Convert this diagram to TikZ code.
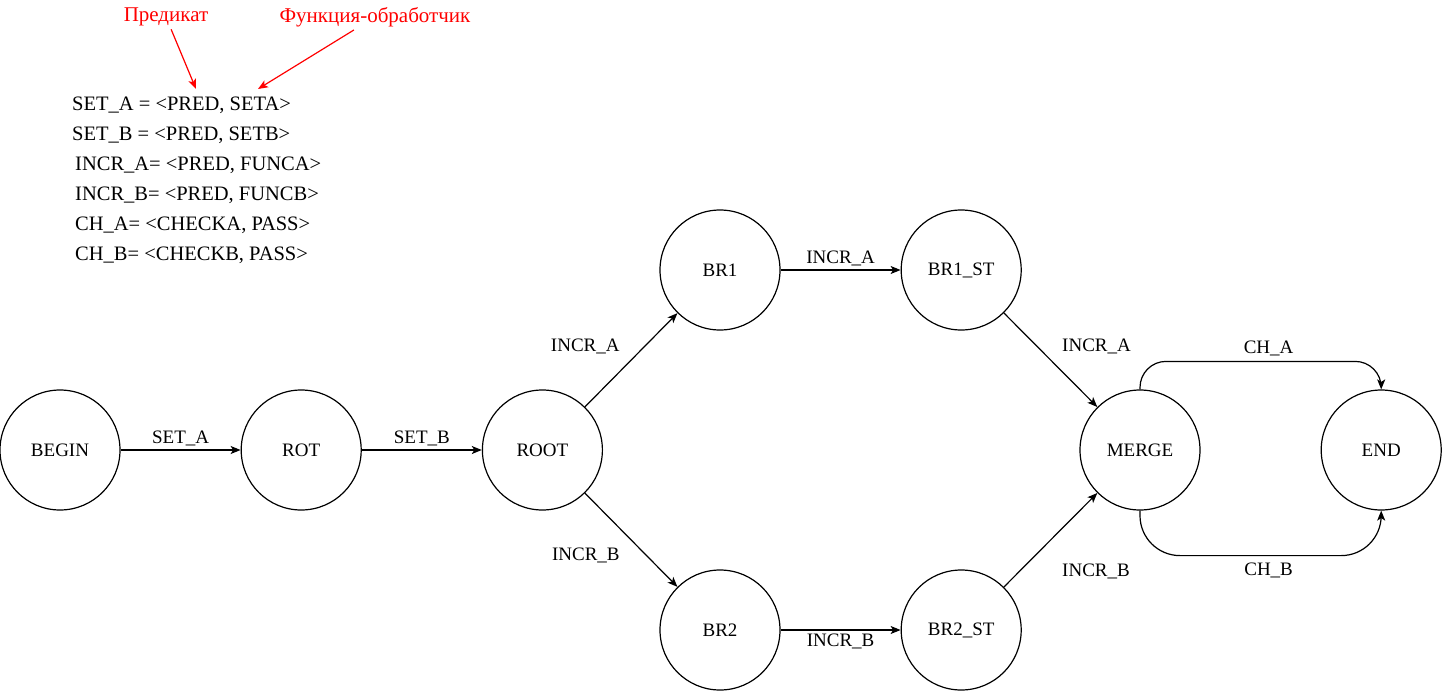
\documentclass[tikz,border=0pt]{standalone}
\usepackage{fontspec}
\setmainfont{Liberation Serif}
\usetikzlibrary{arrows.meta, positioning}

\begin{document}
\begin{tikzpicture}[
      x = 1pt, y = -1pt,
      font = \fontsize{19}{23}\selectfont,
      state/.style={
        circle,
        draw,
        line width = 1.2pt,
        minimum size = 120pt,
        inner sep = 0pt,
      },
      edge/.style={
        -{Stealth[length=10pt, width=8pt, inset=2.5pt]},
        line width = 1.2pt,
      },
      lbl/.style={
        inner sep = 3pt,
      },
      note/.style={
        text = red,
        inner sep = 3pt,
        font = \fontsize{21}{25}\selectfont,
      },
      note arrow/.style={
        -{Stealth[length=10pt, width=8pt, inset=2.5pt]},
        line width = 1.2pt,
        red,
      },
      def/.style={
        anchor = west,
        inner sep = 0pt,
        font = \fontsize{20.5}{24}\selectfont,
      },
    ]
    \useasboundingbox (0,0) rectangle (1443,693);

    % states
    \node[state] (begin) at (60,450) {BEGIN};
    \node[state, right = 120pt of begin] (rot) {ROT};
    \node[state, right = 120pt of rot] (root) {ROOT};
    \node[state] (br1) at (720,270) {BR1};
    \node[state, right = 120pt of br1] (br1st) {BR1\_ST};
    \node[state] (br2) at (720,630) {BR2};
    \node[state, right = 120pt of br2] (br2st) {BR2\_ST};
    \node[state] (merge) at (1140,450) {MERGE};
    \node[state, right = 120pt of merge] (end) {END};

    % transitions
    \draw[edge] (begin) -- node[lbl, above] {SET\_A} (rot);
    \draw[edge] (rot) -- node[lbl, above] {SET\_B} (root);
    \draw[edge] (root) -- node[lbl, above left, xshift=-8pt, yshift=2pt] {INCR\_A} (br1);
    \draw[edge] (root) -- node[lbl, below left, xshift=-8pt, yshift=-4pt] {INCR\_B} (br2);
    \draw[edge] (br1) -- node[lbl, above] {INCR\_A} (br1st);
    \draw[edge] (br2) -- node[lbl, below] {INCR\_B} (br2st);
    \draw[edge] (br1st) -- node[lbl, above right, xshift=8pt, yshift=2pt] {INCR\_A} (merge);
    \draw[edge] (br2st) -- node[lbl, below right, xshift=8pt, yshift=-20pt] {INCR\_B} (merge);
    \draw[edge, rounded corners=26pt] (merge.north)
      |- node[lbl, above, pos=0.75, xshift=8pt, yshift=2pt] {CH\_A} ([yshift=28pt]end.north)
      -- (end.north);
    \draw[edge, rounded corners=40pt] (merge.south)
      |- node[lbl, below, pos=0.75, xshift=8pt, yshift=-4pt] {CH\_B} ([yshift=-45pt]end.south)
      -- (end.south);

    % definitions
    \node[def] (seta) at (72,105) {SET\_A = <PRED, SETA>};
    \node[def] (setb) at (72,135) {SET\_B = <PRED, SETB>};
    \node[def] (incra) at (75,165) {INCR\_A= <PRED, FUNCA>};
    \node[def] (incrb) at (75,195) {INCR\_B= <PRED, FUNCB>};
    \node[def] (cha) at (75,225) {CH\_A= <CHECKA, PASS>};
    \node[def] (chb) at (75,255) {CH\_B= <CHECKB, PASS>};

    % notes
    \node[note] (pred) at (166,17) {Предикат};
    \node[note] (func) at (375,17) {Функция-обработчик};
    \coordinate (pred tip) at (196,89);
    \coordinate (func tip) at (258,89);
    \draw[note arrow] (pred) -- (pred tip);
    \draw[note arrow] (func) -- (func tip);
  \end{tikzpicture}
\end{document}
